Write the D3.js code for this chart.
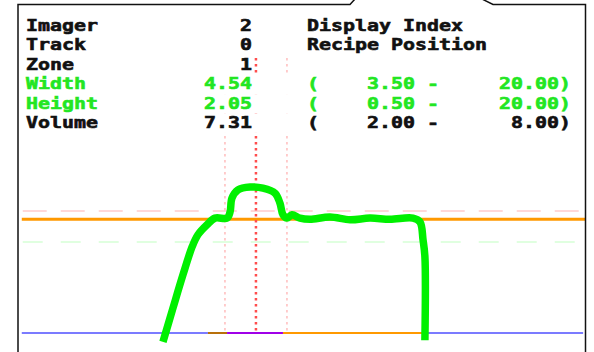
<!DOCTYPE html>
<meta charset="utf-8">
<script src="https://d3js.org/d3.v7.min.js"></script>
<style>
  body { margin: 0; background: #fff; }
  svg { display: block; }
</style>
<div id="chart"></div>
<script>

  // text rows
  const labels = ["Imager", "Track", "Zone", "Width", "Height", "Volume"];
  const values = ["2", "0", "1", "4.54", "2.05", "7.31"];
  const headers = ["Display Index", "Recipe Position"];
  const rangeRows = [3, 4, 5];
  const rangeLow = ["3.50", "0.50", "2.00"];
  const rangeHigh = ["20.00", "20.00", "8.00"];
  const rowGreen = [false, false, false, true, true, false];

  // profile (x in mm, y in mm)
  const profileX = [7.67, 8.20, 8.73, 9.21, 9.52, 10.00, 10.42, 11.06, 11.22, 11.32, 11.64, 12.28,
    12.96, 13.60, 13.86, 14.02, 14.23, 14.50, 14.92, 15.45, 16.51, 17.57, 18.62, 19.68,
    20.90, 21.27, 21.43, 21.53, 21.53];
  const profileY = [-0.16, 0.45, 1.05, 1.55, 1.77, 1.95, 2.07, 2.07, 2.18, 2.43, 2.58, 2.63,
    2.61, 2.52, 2.34, 2.13, 2.07, 2.13, 2.07, 2.05, 2.09, 2.04, 2.07, 2.05,
    2.07, 2.00, 1.68, 1.37, -0.13];

  // reference levels
  const upperLimit = 2.20;
  const measuredHeight = 2.05;
  const lowerLimit = 1.64;

  // vertical guides: left edge, centre, right edge
  const guideX = [10.95, 12.59, 14.23];

  // baseline segments
  const segStart = [0.2, 10.05, 11.06, 14.02, 21.38];
  const segEnd = [10.05, 11.06, 14.02, 21.38, 29.9];
  const segColor = ["#7b7bff", "#b8700a", "#a000e8", "#ff9900", "#7b7bff"];

  const W = 594, H = 352;
  const svg = d3.select("#chart").append("svg")
    .attr("width", W)
    .attr("height", H);

  const x = d3.scaleLinear().domain([0, 30]).range([18, 585]);
  const y = d3.scaleLinear().domain([0, 6]).range([333, 0]);

  // horizontal reference lines
  svg.append("line")
    .attr("x1", x(0.25)).attr("x2", x(29.9))
    .attr("y1", y(upperLimit)).attr("y2", y(upperLimit))
    .attr("stroke", "#ffcccc").attr("stroke-width", 1.5)
    .attr("stroke-dasharray", "24,14");
  svg.append("line")
    .attr("x1", x(0.25)).attr("x2", x(29.9))
    .attr("y1", y(lowerLimit)).attr("y2", y(lowerLimit))
    .attr("stroke", "#d6ffd6").attr("stroke-width", 1.5)
    .attr("stroke-dasharray", "20,18");
  svg.append("line")
    .attr("x1", x(0.2)).attr("x2", x(30))
    .attr("y1", y(measuredHeight)).attr("y2", y(measuredHeight))
    .attr("stroke", "#ff9900").attr("stroke-width", 3);

  // vertical guides
  svg.selectAll(".guide")
    .data(guideX)
    .join("line")
    .attr("x1", d => x(d)).attr("x2", d => x(d))
    .attr("y1", 40).attr("y2", y(0))
    .attr("stroke", (d, i) => i === 1 ? "#ff4d4d" : "#ffbcbc")
    .attr("stroke-width", (d, i) => i === 1 ? 2.5 : 1.5)
    .attr("stroke-dasharray", "2.5,3.5");

  // baseline
  svg.selectAll(".seg")
    .data(segStart)
    .join("line")
    .attr("x1", d => x(d))
    .attr("x2", (d, i) => x(segEnd[i]))
    .attr("y1", y(0)).attr("y2", y(0))
    .attr("stroke", (d, i) => segColor[i])
    .attr("stroke-width", 2);

  // profile curve
  const pts = profileX.map((d, i) => [d, profileY[i]]);
  svg.append("path")
    .datum(pts)
    .attr("fill", "none")
    .attr("stroke", "#00f000")
    .attr("stroke-width", 7.5)
    .attr("stroke-linejoin", "round")
    .attr("d", d3.line()
      .x(d => x(d[0]))
      .y(d => y(d[1]))
      .curve(d3.curveCatmullRom.alpha(0.5)));

  // text block
  const cell = 12, left = 26, valEnd = 252, rightCol = 307;
  const rowBase = d3.range(labels.length).map(i => 31 + i * 19.4);
  const sx = 1.246;
  const fontSize = 16;

  function txt(str, px, py, anchor, color) {
    svg.append("text")
      .attr("transform", `translate(${px},${py}) scale(${sx},1)`)
      .attr("text-anchor", anchor)
      .attr("font-family", "DejaVu Sans Mono")
      .attr("font-weight", "bold")
      .attr("font-size", fontSize)
      .attr("fill", color)
      .attr("stroke", color)
      .attr("stroke-width", 0.6)
      .text(str);
  }

  // opaque row backgrounds
  labels.forEach((l, i) => {
    const hasRight = i < headers.length || rangeRows.includes(i);
    const end = hasRight ? rightCol + 22 * cell : valEnd;
    svg.append("rect")
      .attr("x", left).attr("y", rowBase[i] - 14.5)
      .attr("width", end - left).attr("height", 19.4)
      .attr("fill", "#fff");
  });

  labels.forEach((l, i) => {
    const c = rowGreen[i] ? "#22e622" : "#111";
    txt(l, left, rowBase[i], "start", c);
    txt(values[i], valEnd, rowBase[i], "end", c);
  });

  headers.forEach((h, i) => txt(h, rightCol, rowBase[i], "start", "#111"));

  rangeRows.forEach((r, k) => {
    const c = rowGreen[r] ? "#22e622" : "#111";
    txt("(", rightCol, rowBase[r], "start", c);
    txt(rangeLow[k], rightCol + 9 * cell, rowBase[r], "end", c);
    txt("-", rightCol + 10 * cell, rowBase[r], "start", c);
    txt(rangeHigh[k] + ")", rightCol + 22 * cell, rowBase[r], "end", c);
  });

  // frame with tab at top
  svg.append("path")
    .attr("d", "M18,352 V4.5 H350 L355,-1 M482,-1 L493,4.5 H585.5 V352")
    .attr("fill", "none")
    .attr("stroke", "#111")
    .attr("stroke-width", 1.5);

</script>
